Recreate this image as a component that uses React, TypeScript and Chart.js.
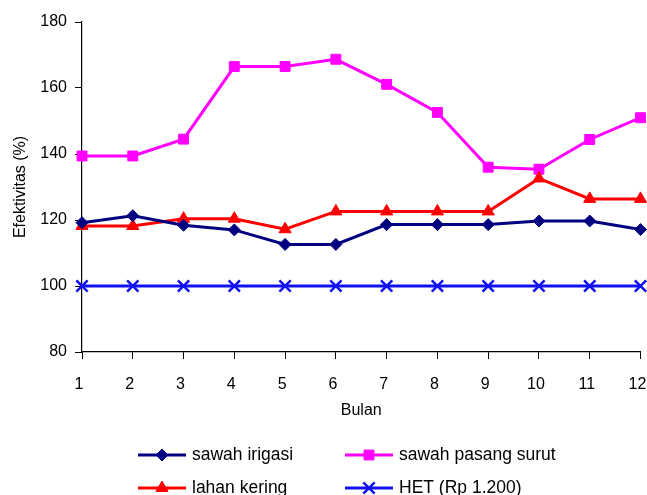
import React, { useEffect, useRef } from "react";
import { Chart, registerables } from "chart.js";
import * as helpers from "chart.js/helpers";

Chart.register(...registerables);

const months = ["1", "2", "3", "4", "5", "6", "7", "8", "9", "10", "11", "12"];
const sawahIrigasi = [119.2, 121.3, 118.4, 117, 112.6, 112.6, 118.6, 118.6, 118.6, 119.7, 119.7, 117.1];
const sawahPasangSurut = [139.4, 139.4, 144.5, 166.5, 166.5, 168.7, 161.1, 152.6, 136, 135.4, 144.4, 151];
const lahanKering = [118.2, 118.2, 120.4, 120.4, 117.2, 122.6, 122.6, 122.6, 122.6, 132.6, 126.4, 126.4];
const het = [100, 100, 100, 100, 100, 100, 100, 100, 100, 100, 100, 100];
const yTicks = [80, 100, 120, 140, 160, 180];

const FONT = "'Liberation Sans', Arial, sans-serif";

const legendPlugin = {
  id: "customLegend",
  afterDraw(chart: any) {
    const ctx = chart.ctx;
    const items = [
      { ds: 0, x: 138, y: 455 },
      { ds: 1, x: 345, y: 455 },
      { ds: 2, x: 138, y: 488 },
      { ds: 3, x: 345, y: 488 },
    ];
    ctx.save();
    items.forEach((it) => {
      const ds = chart.data.datasets[it.ds];
      ctx.strokeStyle = ds.borderColor;
      ctx.lineWidth = ds.borderWidth;
      ctx.beginPath();
      ctx.moveTo(it.x, it.y);
      ctx.lineTo(it.x + 48, it.y);
      ctx.stroke();
      ctx.fillStyle = ds.pointBackgroundColor;
      ctx.strokeStyle = ds.pointBorderColor;
      ctx.lineWidth = ds.pointBorderWidth;
      helpers.drawPoint(
        ctx,
        { pointStyle: ds.pointStyle, radius: ds.pointRadius, borderWidth: ds.pointBorderWidth, rotation: 0 },
        it.x + 24,
        it.y
      );
      ctx.fillStyle = "#000";
      ctx.font = `17.5px ${FONT}`;
      ctx.textBaseline = "middle";
      ctx.textAlign = "left";
      ctx.fillText(ds.label, it.x + 54, it.y);
    });
    ctx.restore();
  },
};

export default function App() {
  const ref = useRef<HTMLCanvasElement | null>(null);
  useEffect(() => {
    if (!ref.current) return;
    Chart.defaults.font.family = FONT;
    Chart.defaults.font.size = 16;
    Chart.defaults.color = "#000";
    const chart = new Chart(ref.current, {
      type: "line",
      data: {
        labels: months,
        datasets: [
          {
            label: "sawah irigasi",
            data: sawahIrigasi,
            borderColor: "#000080",
            backgroundColor: "#000080",
            borderWidth: 3,
            pointStyle: "rectRot",
            pointRadius: 6,
            pointBackgroundColor: "#000080",
            pointBorderColor: "#000080",
            pointBorderWidth: 1,
            order: 1,
          },
          {
            label: "sawah pasang surut",
            data: sawahPasangSurut,
            borderColor: "#FF00FF",
            backgroundColor: "#FF00FF",
            borderWidth: 3,
            pointStyle: "rect",
            pointRadius: 7,
            pointBackgroundColor: "#FF00FF",
            pointBorderColor: "#FF00FF",
            pointBorderWidth: 1,
            order: 3,
          },
          {
            label: "lahan kering",
            data: lahanKering,
            borderColor: "#FF0000",
            backgroundColor: "#FF0000",
            borderWidth: 3,
            pointStyle: "triangle",
            pointRadius: 7,
            pointBackgroundColor: "#FF0000",
            pointBorderColor: "#FF0000",
            pointBorderWidth: 1,
            order: 2,
          },
          {
            label: "HET (Rp 1.200)",
            data: het,
            borderColor: "#1010F0",
            backgroundColor: "#1010F0",
            borderWidth: 3,
            pointStyle: "crossRot",
            pointRadius: 8,
            pointBackgroundColor: "#1010F0",
            pointBorderColor: "#1010F0",
            pointBorderWidth: 2.5,
            order: 4,
          },
        ],
      },
      options: {
        animation: false,
        responsive: true,
        maintainAspectRatio: false,
        layout: { padding: { top: 22, right: 0, bottom: 75, left: 0 } },
        plugins: {
          legend: { display: false },
          tooltip: { enabled: false },
        },
        elements: { line: { tension: 0 } },
        scales: {
          x: {
            type: "category",
            offset: false,
            grid: { drawOnChartArea: false, drawTicks: true, tickLength: 7, color: "#000", lineWidth: 1 },
            border: { color: "#000", width: 1.2 },
            ticks: { padding: 16, labelOffset: -3, maxRotation: 0, autoSkip: false, font: { size: 16 } },
            title: { display: true, text: "Bulan", font: { size: 16 }, padding: { top: 0, bottom: 0 } },
            afterFit: (scale: any) => {
              scale.height = 68;
              scale.paddingRight = 3;
              scale.paddingLeft = 0;
            },
          },
          y: {
            min: 80,
            max: 180,
            afterBuildTicks: (scale: any) => {
              scale.ticks = yTicks.map((v) => ({ value: v }));
            },
            grid: { drawOnChartArea: false, drawTicks: true, tickLength: 7, color: "#000", lineWidth: 1 },
            border: { color: "#000", width: 1.2 },
            ticks: { padding: 8, font: { size: 16 } },
            title: { display: true, text: "Efektivitas (%)", font: { size: 16 }, padding: { top: 11, bottom: 0 } },
            afterFit: (scale: any) => {
              scale.width = 82;
            },
          },
        },
      },
      plugins: [legendPlugin],
    });
    return () => chart.destroy();
  }, []);
  return (
    <div style={{ position: "absolute", left: 0, top: 0, width: 647, height: 495, overflow: "hidden", background: "#fff" }}>
      <div style={{ position: "relative", width: 651, height: 495 }}>
        <canvas ref={ref} />
      </div>
    </div>
  );
}
